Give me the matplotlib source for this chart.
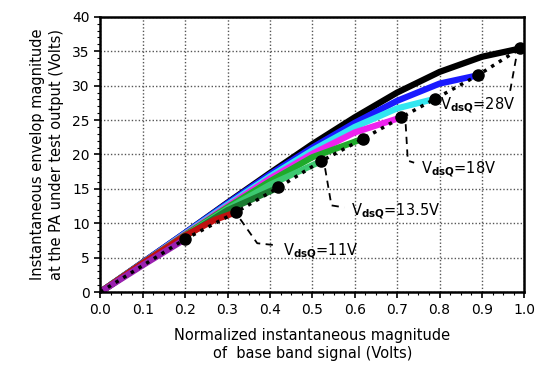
import matplotlib
matplotlib.use("Agg")
import matplotlib.pyplot as plt
from matplotlib.ticker import MultipleLocator

# measured envelope curves (x = normalized input, y = output volts)
x_black = [0.0, 0.1, 0.2, 0.3, 0.4, 0.5, 0.6, 0.7, 0.8, 0.9, 0.99]
y_black = [0.0, 4.3, 8.6, 13.0, 17.3, 21.5, 25.4, 29.0, 32.0, 34.2, 35.4]
x_blue = [0.0, 0.1, 0.2, 0.3, 0.4, 0.5, 0.6, 0.7, 0.8, 0.89]
y_blue = [0.0, 4.3, 8.6, 12.9, 17.1, 21.0, 24.6, 27.8, 30.3, 31.5]
x_cyan = [0.0, 0.1, 0.2, 0.3, 0.4, 0.5, 0.6, 0.7, 0.79]
y_cyan = [0.0, 4.2, 8.5, 12.7, 16.8, 20.6, 24.0, 26.7, 28.1]
x_magenta = [0.0, 0.1, 0.2, 0.3, 0.4, 0.5, 0.6, 0.71]
y_magenta = [0.0, 4.2, 8.4, 12.5, 16.5, 20.1, 23.2, 25.4]
x_green = [0.0, 0.1, 0.2, 0.3, 0.4, 0.5, 0.62]
y_green = [0.0, 4.2, 8.3, 12.3, 16.1, 19.6, 22.3]
x_sea = [0.0, 0.1, 0.2, 0.3, 0.4, 0.52]
y_sea = [0.0, 4.2, 8.2, 12.1, 15.6, 19.0]
x_dkgreen = [0.0, 0.1, 0.2, 0.3, 0.42]
y_dkgreen = [0.0, 4.1, 8.1, 11.9, 15.2]
x_red = [0.0, 0.1, 0.2, 0.27, 0.32]
y_red = [0.0, 4.2, 8.2, 10.5, 11.6]
x_purple = [0.0, 0.1, 0.2]
y_purple = [0.0, 3.9, 7.7]

# peak points joined by the dotted line
peak_x = [0.0, 0.2, 0.32, 0.42, 0.52, 0.62, 0.71, 0.79, 0.89, 0.99]
peak_y = [0.0, 7.7, 11.6, 15.2, 19.0, 22.3, 25.4, 28.1, 31.5, 35.4]

labels = ["11V", "13.5V", "18V", "28V"]
label_peaks = [(0.32, 11.6), (0.52, 19.0), (0.71, 25.4), (0.99, 35.4)]
label_corners = [(0.37, 7.1), (0.545, 12.6), (0.725, 19.1), (0.965, 28.8)]
label_pos = [(0.43, 5.8), (0.59, 11.6), (0.755, 17.7), (0.80, 27.1)]


def main():
    fig = plt.figure(figsize=(5.39, 3.74), dpi=100)
    ax = fig.add_axes([0.186, 0.219, 0.787, 0.736])

    curves = [
        (x_black, y_black, "black"),
        (x_blue, y_blue, "#1a1aff"),
        (x_cyan, y_cyan, "#33e6f0"),
        (x_magenta, y_magenta, "#ee22ee"),
        (x_green, y_green, "#1faa2a"),
        (x_sea, y_sea, "#3cc870"),
        (x_dkgreen, y_dkgreen, "#1a7a30"),
        (x_red, y_red, "#c01010"),
        (x_purple, y_purple, "#9a20b0"),
    ]
    for xs, ys, c in curves:
        ax.plot(xs, ys, color=c, lw=4.5, solid_capstyle="round", zorder=2)

    ax.plot(peak_x, peak_y, color="black", ls=(0, (1, 1.6)), lw=2.5, zorder=3)
    ax.plot(peak_x[1:], peak_y[1:], "o", color="black", ms=8, zorder=4)

    # dashed leader lines + labels
    for lab, p, c, pos in zip(labels, label_peaks, label_corners, label_pos):
        if lab == "28V":
            ax.plot([p[0] - 0.01, c[0]], [p[1] - 1.5, c[1]], color="black",
                    ls=(0, (4, 3)), lw=1.3, zorder=3)
        else:
            ax.plot([p[0] + 0.01, c[0], pos[0] - 0.015],
                    [p[1] - 1.0, c[1], c[1] - 0.3], color="black",
                    ls=(0, (4, 3)), lw=1.3, zorder=3)
        ax.text(pos[0], pos[1], r"V$_{\mathbf{dsQ}}$=" + lab, fontsize=10.5,
                va="center", ha="left", zorder=5)

    ax.set_xlim(0, 1.0)
    ax.set_ylim(0, 40)
    ax.xaxis.set_major_locator(MultipleLocator(0.1))
    ax.xaxis.set_minor_locator(MultipleLocator(0.025))
    ax.yaxis.set_major_locator(MultipleLocator(5))
    ax.yaxis.set_minor_locator(MultipleLocator(1))
    ax.set_xticklabels(["%.1f" % v for v in ax.get_xticks()])
    ax.tick_params(which="major", length=4, width=1.2, labelsize=10)
    ax.tick_params(which="minor", length=2, width=0.8)
    ax.grid(True, which="major", color="#555555", ls=(0, (1, 1.5)), lw=1.0)
    for s in ax.spines.values():
        s.set_linewidth(1.8)

    ax.set_xlabel("Normalized instantaneous magnitude\nof  base band signal (Volts)",
                  fontsize=10.5, labelpad=8, linespacing=1.3)
    ax.set_ylabel("Instantaneous envelop magnitude\nat the PA under test output (Volts)",
                  fontsize=10.5, labelpad=6, linespacing=1.3)

    fig.savefig("out.png", dpi=100)


if __name__ == "__main__":
    main()
